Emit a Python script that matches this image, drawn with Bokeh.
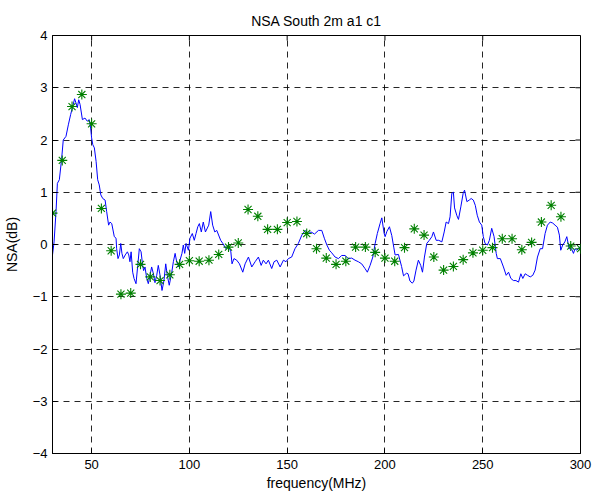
from bokeh.plotting import figure
from bokeh.models import Range1d, FixedTicker
from bokeh.embed import file_html
from bokeh.resources import INLINE

title_text = "NSA South 2m a1 c1"
x_label = "frequency(MHz)"
y_label = "NSA(dB)"
x_ticks = [50, 100, 150, 200, 250, 300]
y_ticks = [-4, -3, -2, -1, 0, 1, 2, 3, 4]
x_min, x_max = 30, 300
y_min, y_max = -4, 4

line_freq = [30.0, 30.8, 31.8, 32.5, 33.5, 34.7, 35.5, 36.9, 38.1, 39.3, 40.6, 41.3, 42.0, 42.7, 43.4,
             44.1, 45.3, 46.6, 47.8, 48.8, 49.5, 50.0, 50.6, 51.4, 52.3, 53.1, 53.9, 54.7, 55.7, 56.9,
             57.7, 58.7, 59.4, 60.3, 61.6, 62.5, 62.8, 63.5, 64.2, 64.9, 65.5, 66.2, 67.2, 68.3, 69.0,
             69.6, 70.2, 71.0, 71.7, 72.7, 73.6, 74.4, 75.3, 76.1, 76.6, 77.3, 78.2, 79.0, 79.8, 80.7,
             81.6, 82.4, 83.3, 84.1, 85.0, 86.0, 87.0, 87.9, 88.7, 89.7, 91.0, 91.8, 92.7, 93.5, 94.6,
             95.2, 96.2, 96.9, 97.6, 98.3, 99.5, 100.3, 101.5, 102.5, 103.4, 104.3, 105.1, 106.1, 107.1,
             108.2, 109.9, 110.9, 111.9, 113.0, 114.0, 116.0, 117.1, 118.7, 119.9, 121.2, 121.8, 122.8,
             124.2, 125.6, 127.3, 128.5, 130.2, 131.9, 133.6, 135.3, 136.7, 137.8, 139.2, 140.4, 142.1,
             143.3, 144.7, 146.4, 148.1, 149.4, 150.6, 152.3, 154.0, 155.7, 157.5, 159.2, 160.8, 162.2,
             164.0, 166.0, 167.7, 169.0, 170.3, 171.6, 172.8, 174.5, 176.2, 177.9, 179.6, 181.3, 183.0,
             184.7, 186.4, 188.1, 189.8, 191.0, 192.4, 193.8, 195.0, 196.1, 197.5, 198.4, 199.6, 200.1,
             201.0, 202.3, 203.5, 204.5, 205.2, 206.9, 208.5, 209.5, 211.0, 211.8, 212.8, 214.0, 214.8,
             215.9, 217.1, 218.3, 219.2, 220.2, 221.4, 222.7, 224.0, 224.8, 226.2, 227.5, 229.1, 230.3,
             231.3, 232.5, 233.3, 234.2, 235.0, 235.6, 236.8, 237.6, 238.8, 240.0, 240.7, 241.9, 243.1,
             244.1, 245.2, 246.2, 247.2, 248.3, 249.5, 250.3, 251.2, 252.4, 253.4, 254.6, 255.8, 256.9,
             257.5, 259.0, 260.6, 262.0, 263.2, 264.4, 265.7, 267.0, 268.3, 269.5, 270.5, 271.7, 272.9,
             274.3, 275.6, 276.8, 278.0, 279.4, 280.6, 281.9, 283.1, 284.5, 285.8, 287.0, 288.2, 289.2,
             289.9, 290.9, 292.0, 293.0, 294.2, 295.4, 296.4, 297.2, 298.1, 299.5, 300.0]
line_nsa = [-0.20, 0.05, 0.63, 1.17, 1.24, 1.65, 2.00, 2.07, 2.29, 2.49, 2.68, 2.79, 2.71, 2.62, 2.77,
            2.68, 2.39, 2.42, 2.36, 2.39, 2.23, 2.04, 1.91, 1.85, 1.59, 1.24, 1.14, 0.95, 0.88, 0.85,
            0.63, 0.37, 0.43, 0.40, 0.15, 0.12, -0.08, -0.27, -0.20, 0.02, -0.17, -0.27, -0.20, -0.14, -0.20,
            -0.33, -0.14, -0.53, -0.65, -0.75, -0.40, -0.08, -0.14, -0.40, -0.50, -0.43, -0.65, -0.75, -0.60, -0.43,
            -0.56, -0.73, -0.59, -0.40, -0.59, -0.88, -0.69, -0.37, -0.59, -0.78, -0.53, -0.33, -0.17, -0.33, -0.43,
            -0.30, -0.17, -0.01, -0.17, 0.02, -0.11, 0.12, 0.21, 0.08, 0.21, 0.34, 0.40, 0.24, 0.43,
            0.24, 0.37, 0.63, 0.37, 0.24, 0.27, 0.08, 0.02, -0.08, -0.01, -0.14, -0.37, -0.27,
            -0.30, -0.37, -0.53, -0.37, -0.24, -0.43, -0.33, -0.24, -0.40, -0.30, -0.37, -0.30, -0.46,
            -0.33, -0.30, -0.43, -0.30, -0.33, -0.27, -0.24, -0.08, 0.02, 0.18, 0.27, 0.21, 0.24,
            0.20, 0.27, 0.27, 0.12, -0.01, -0.11, -0.16, -0.24, -0.27, -0.21, -0.21, -0.27, -0.26,
            -0.30, -0.33, -0.37, -0.46, -0.53, -0.40, -0.24, 0.02, 0.21, 0.40, 0.51, 0.21, 0.15,
            0.25, 0.34, 0.17, -0.05, -0.20, -0.19, -0.42, -0.60, -0.55, -0.56, -0.70, -0.74, -0.70,
            -0.49, -0.30, -0.40, -0.53, -0.24, 0.02, 0.08, 0.15, 0.24, 0.08, 0.08, 0.05, 0.24,
            0.43, 0.40, 0.53, 0.98, 1.00, 0.70, 0.55, 0.48, 0.72, 0.98, 1.04, 0.82, 0.85,
            0.88, 0.85, 0.75, 0.56, 0.43, 0.37, 0.15, 0.02, -0.01, 0.08, 0.31, 0.15, -0.17,
            -0.27, -0.27, -0.43, -0.59, -0.53, -0.65, -0.69, -0.69, -0.72, -0.56, -0.65, -0.56, -0.59,
            -0.62, -0.59, -0.49, -0.24, -0.08, -0.08, 0.21, 0.37, 0.43, 0.41, 0.37, 0.33, 0.18,
            -0.11, -0.01, 0.05, 0.15, -0.08, -0.08, -0.17, -0.08, -0.11, -0.05, -0.05]

star_freq = [30, 35, 40, 45, 50, 55, 60, 65, 70, 75, 80, 85, 90, 95, 100, 105, 110, 115, 120, 125,
             130, 135, 140, 145, 150, 155, 160, 165, 170, 175, 180, 185, 190, 195, 200, 205, 210, 215,
             220, 225, 230, 235, 240, 245, 250, 255, 260, 265, 270, 275, 280, 285, 290, 295, 300]
star_nsa = [0.60, 1.61, 2.64, 2.87, 2.31, 0.69, -0.12, -0.95, -0.93, -0.38, -0.62, -0.69, -0.58, -0.38,
            -0.31, -0.32, -0.30, -0.19, -0.05, 0.03, 0.67, 0.54, 0.29, 0.29, 0.42, 0.44, 0.21, -0.08,
            -0.26, -0.38, -0.32, -0.05, -0.05, -0.15, -0.26, -0.32, -0.06, 0.30, 0.18, -0.24, -0.49,
            -0.42, -0.29, -0.16, -0.11, -0.06, 0.11, 0.11, -0.10, 0.04, 0.43, 0.75, 0.53, -0.03, -0.08]

FONT = "Liberation Sans"

p = figure(width=592, height=493, output_backend="svg", toolbar_location=None,
           x_range=Range1d(x_min, x_max), y_range=Range1d(y_min, y_max),
           min_border_left=52, min_border_right=12, min_border_top=35, min_border_bottom=40)
p.title.text = title_text
p.title.align = "center"
p.title.text_font = FONT
p.title.text_font_size = "14px"
p.title.text_font_style = "normal"
p.title.text_color = "black"
p.title.standoff = 13

p.outline_line_color = "black"
p.outline_line_width = 1
p.background_fill_color = "white"
p.border_fill_color = "white"

for ax in (p.xaxis[0], p.yaxis[0]):
    ax.major_tick_in = 5
    ax.major_tick_out = 0
    ax.minor_tick_line_color = None
    ax.axis_line_color = "black"
    ax.major_tick_line_color = "black"
    ax.major_label_text_font = FONT
    ax.major_label_text_font_size = "13px"
    ax.major_label_text_color = "black"
    ax.axis_label_text_font = FONT
    ax.axis_label_text_font_size = "14px"
    ax.axis_label_text_font_style = "normal"
    ax.axis_label_text_color = "black"

p.xaxis[0].ticker = FixedTicker(ticks=x_ticks)
p.yaxis[0].ticker = FixedTicker(ticks=y_ticks)
p.xaxis[0].axis_label = x_label
p.yaxis[0].axis_label = y_label
p.xaxis[0].major_label_standoff = 6
p.xaxis[0].axis_label_standoff = 3
p.yaxis[0].major_label_standoff = 5
p.yaxis[0].axis_label_standoff = 10

p.xgrid.ticker = FixedTicker(ticks=x_ticks)
p.ygrid.ticker = FixedTicker(ticks=y_ticks)
for g in (p.xgrid[0], p.ygrid[0]):
    g.grid_line_color = "black"
    g.grid_line_width = 1
    g.grid_line_dash = "6 5"
    g.grid_line_alpha = 0.85

# inward ticks on the top and right edges of the box (MATLAB style)
tick_len_y = (y_max - y_min) * 5 / 418
tick_len_x = (x_max - x_min) * 5 / 528
p.segment(x0=x_ticks, y0=[y_max] * len(x_ticks), x1=x_ticks, y1=[y_max - tick_len_y] * len(x_ticks),
          line_color="black", line_width=1)
p.segment(x0=[x_max] * len(y_ticks), y0=y_ticks, x1=[x_max - tick_len_x] * len(y_ticks), y1=y_ticks,
          line_color="black", line_width=1)

p.line(line_freq, line_nsa, line_color="#0000ff", line_width=1)
p.scatter(star_freq, star_nsa, marker="asterisk", size=10, line_color="#008000", line_width=1.1)

open("out.html", "w").write(file_html(p, INLINE))
